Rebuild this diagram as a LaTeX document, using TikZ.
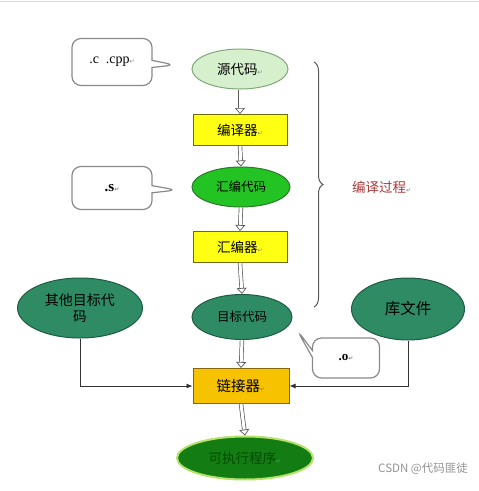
\documentclass[tikz,border=0pt]{standalone}
\usepackage{fontspec}
\setmainfont{Liberation Serif}
\newfontfamily\cjk{Noto Sans CJK SC}
\newfontfamily\dvs{DejaVu Sans}
\usetikzlibrary{arrows.meta,shapes.geometric,shapes.callouts,decorations.pathreplacing}
\definecolor{srcfill}{HTML}{D6F0CE}
\definecolor{srcdraw}{HTML}{7FA878}
\definecolor{boxfill}{HTML}{FFFF14}
\definecolor{boxdraw}{HTML}{6E6A10}
\definecolor{asmfill}{HTML}{22C322}
\definecolor{asmdraw}{HTML}{2C7A2C}
\definecolor{objfill}{HTML}{2E8B63}
\definecolor{objdraw}{HTML}{1F5C44}
\definecolor{linkfill}{HTML}{F7C300}
\definecolor{linkdraw}{HTML}{85660A}
\definecolor{exefill}{HTML}{137D13}
\definecolor{exeglow}{HTML}{B5E26A}
\definecolor{redtxt}{HTML}{A83A3A}
\definecolor{bubdraw}{HTML}{8A8A8A}
\newcommand{\retmark}{{\dvs\fontsize{6}{6}\selectfont\textcolor{gray}{↵}}}
\begin{document}
\begin{tikzpicture}[x=1pt,y=-1pt,
  every node/.style={font=\cjk\fontsize{13.5}{16}\selectfont, inner sep=0pt},
  ell/.style={ellipse, draw, line width=1pt},
  stage/.style={rectangle, draw=boxdraw, fill=boxfill, line width=1pt, minimum width=94pt, minimum height=31pt},
  bubble/.style={rectangle callout, draw=bubdraw, fill=white, line width=1.2pt, rounded corners=9pt, font=\rmfamily\fontsize{14}{16}\selectfont},
  dblarrow/.style={draw=gray!70!black, double=white, double distance=3pt, line width=0.7pt, -{Triangle[open, length=6pt, width=10pt, line width=0.7pt, fill=white]}},
  feed/.style={draw=black!80, line width=0.8pt, -{Latex[length=6pt,width=5pt]}}
]
\useasboundingbox (0,0) rectangle (479,491);
\fill[white] (0,0) rectangle (479,491);
\draw[cyan!30, line width=1pt] (0,1.5) -- (479,1.5);

% main chain
\node[ell, draw=srcdraw, fill=srcfill, minimum width=96pt, minimum height=40pt] (src) at (240,69) {源代码\retmark};
\node[stage] (cc) at (240,130) {编译器\retmark};
\node[ell, draw=asmdraw, fill=asmfill, minimum width=98pt, minimum height=40pt] (asm) at (241,187) {\fontsize{12.5}{15}\selectfont 汇编代码};
\node[stage] (as) at (240,247) {汇编器\retmark};
\node[ell, draw=objdraw, fill=objfill, minimum width=100pt, minimum height=45pt] (obj) at (242,317) {\fontsize{12.5}{15}\selectfont 目标代码};
\node[rectangle, draw=linkdraw, fill=linkfill, line width=1pt, minimum width=96pt, minimum height=35pt] (link) at (241,386) {\fontsize{14.5}{17}\selectfont 链接器\retmark};
\node[ell, draw=exeglow, fill=exefill, line width=2pt, minimum width=136pt, minimum height=43pt] (exe) at (245,458) {\textcolor{black!70!green}{可执行程序}\retmark};

% side inputs
\node[ell, draw=objdraw, fill=objfill, minimum width=125pt, minimum height=60pt, align=center] (other) at (80,308) {\fontsize{14}{19}\selectfont 其他目标代\\码};
\node[ell, draw=objdraw, fill=objfill, minimum width=113pt, minimum height=62pt] (lib) at (408,309) {\fontsize{15.5}{18}\selectfont 库文件};

% double arrows
\draw[dblarrow] (src.south) -- (cc.north);
\draw[dblarrow] (cc.south) -- (asm.north);
\draw[dblarrow] (asm.south) -- (as.north);
\draw[dblarrow] (as.south) -- (obj.north);
\draw[dblarrow] (obj.south) -- (link.north);
\draw[dblarrow] (link.south) -- (exe.north);

% feeds
\draw[feed] (other.south) |- (link.west);
\draw[feed] (lib.south) |- (link.east);

% bubbles
\coordinate (p1) at (175,65);
\coordinate (p2) at (177,190);
\coordinate (p3) at (297,330);
\node[bubble, minimum width=80pt, minimum height=47pt, callout absolute pointer={(p1)}] (b1) at (112,62) {.c\ \ .cpp\retmark};
\node[bubble, minimum width=80pt, minimum height=43pt, callout absolute pointer={(p2)}] (b2) at (112,188) {\bfseries\fontsize{15}{17}\selectfont .s\retmark};
\node[bubble, minimum width=67pt, minimum height=40pt, callout absolute pointer={(p3)}] (b3) at (346,358) {\bfseries\fontsize{13}{15}\selectfont .o\retmark};

% brace
\coordinate (bt) at (314,62);
\coordinate (bb) at (314,307);
\draw[gray!70!black, line width=1pt, decorate, decoration={brace, amplitude=9pt}] (bt) -- (bb);
\node[text=redtxt, anchor=west] (lbl) at (352,187) {\fontsize{13.5}{16}\selectfont 编译过程\retmark};

% watermark
\node[text=gray!85, anchor=east] (wm) at (468,469) {\fontsize{11.5}{13}\selectfont CSDN @代码匪徒};
\end{tikzpicture}
\end{document}
